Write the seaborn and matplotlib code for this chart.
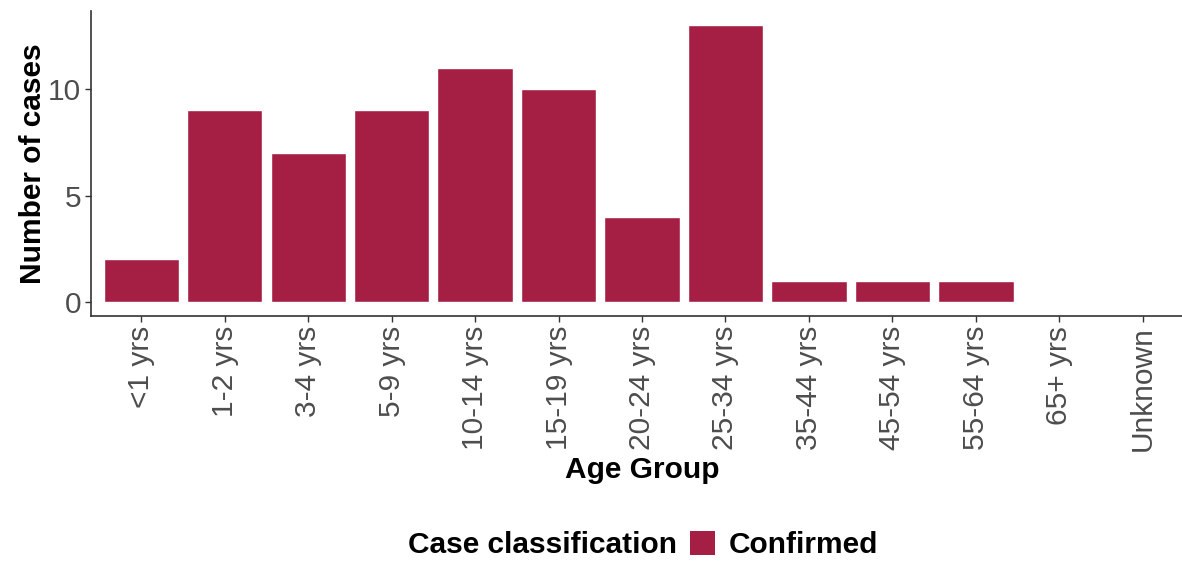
import pandas as pd
import matplotlib
matplotlib.use("Agg")
import matplotlib.pyplot as plt
from matplotlib.patches import Patch
import seaborn as sns

# Data
age_groups = ['<1 yrs', '1-2 yrs', '3-4 yrs', '5-9 yrs', '10-14 yrs', '15-19 yrs',
              '20-24 yrs', '25-34 yrs', '35-44 yrs', '45-54 yrs', '55-64 yrs',
              '65+ yrs', 'Unknown']
cases = [2, 9, 7, 9, 11, 10, 4, 13, 1, 1, 1, 0, 0]
classification = 'Confirmed'

df = pd.DataFrame({'Age Group': age_groups, 'Number of cases': cases})

sns.set_style('white')
plt.rcParams['font.family'] = ['Liberation Sans', 'DejaVu Sans']
plt.rcParams['text.color'] = 'black'
plt.rcParams['axes.labelcolor'] = 'black'

bar_color = '#A51F44'
tick_color = '#4D4D4D'

fig = plt.figure(figsize=(11.82, 5.62), dpi=100)
ax = fig.add_axes([0.077, 0.4377, 0.9323, 0.5427])

sns.barplot(data=df, x='Age Group', y='Number of cases', order=age_groups,
            color=bar_color, saturation=1, width=0.9, ax=ax)

ax.set_xlim(-0.6, 12.6)
ax.set_ylim(-0.65, 13.65)
ax.set_yticks([0, 5, 10])

for side in ['top', 'right']:
    ax.spines[side].set_visible(False)
for side in ['left', 'bottom']:
    ax.spines[side].set_color('#333333')
    ax.spines[side].set_linewidth(1.2)

ax.tick_params(axis='both', which='both', length=4, width=1, color='#333333',
               labelsize=21.5, labelcolor=tick_color, pad=3, left=True, bottom=True)
ax.tick_params(axis='x', labelrotation=90)

ax.set_xlabel('Age Group', fontsize=21.5, fontweight='bold', labelpad=4)
ax.set_ylabel('Number of cases', fontsize=21.5, fontweight='bold', labelpad=1)

# legend at the bottom, title to the left of the key
fig.text(677 / 1182, 0.030, 'Case classification', fontsize=21.5,
         fontweight='bold', ha='right', va='center')
handle = Patch(facecolor=bar_color, edgecolor='none', label=classification)
leg = fig.legend(handles=[handle], loc='center left', bbox_to_anchor=(684 / 1182, 0.030),
                 frameon=False, fontsize=21.5, handlelength=0.85, handleheight=0.85,
                 handletextpad=0.45, borderpad=0.1, borderaxespad=0.1)
for t in leg.get_texts():
    t.set_fontweight('bold')

fig.savefig('out.png', dpi=100)
